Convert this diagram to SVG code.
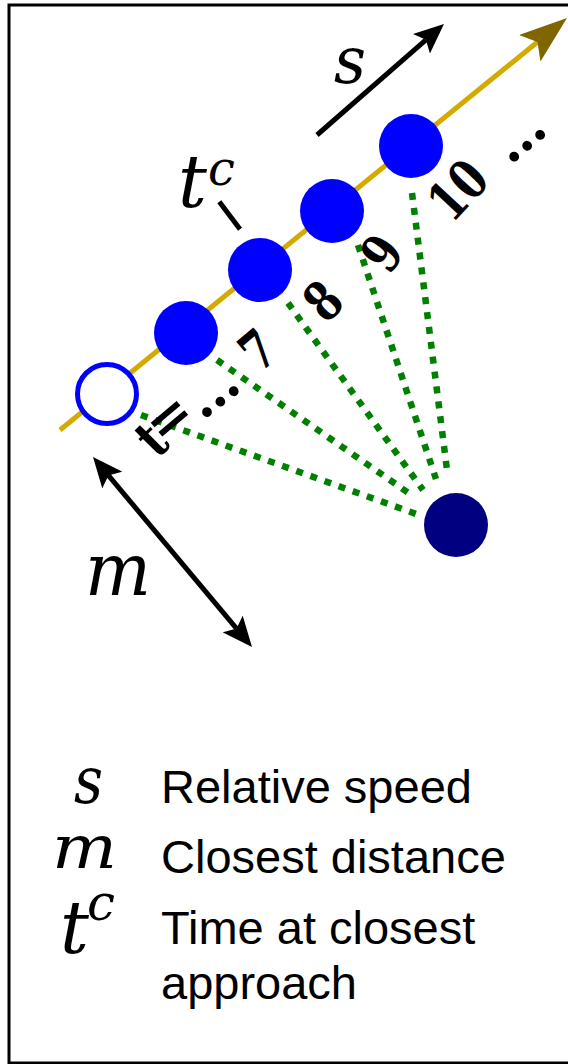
<svg xmlns="http://www.w3.org/2000/svg" width="568" height="1064" viewBox="0 0 568 1064">
<style>
.math{font-family:'DejaVu Serif',serif;font-style:italic;fill:#000}
.lbl{font-family:'DejaVu Serif',serif;font-weight:bold;font-size:54px;fill:#000}
.leg{font-family:'Liberation Sans',Arial,sans-serif;font-size:47px;fill:#000}
.dot{stroke:#008000;stroke-width:6.5;stroke-dasharray:7 8;fill:none}
.blk{stroke:#000;stroke-width:5;fill:none}
.sat{fill:#0000FF}
</style>
<defs>
<marker id="ah" viewBox="0 0 30 26" refX="6" refY="13" markerWidth="30" markerHeight="26" markerUnits="userSpaceOnUse" orient="auto-start-reverse">
<path d="M0,0 L30,13 L0,26 L6,13 z" fill="#000"/>
</marker>
<marker id="yh" viewBox="0 0 48 34" refX="10" refY="17" markerWidth="48" markerHeight="34" markerUnits="userSpaceOnUse" orient="auto">
<path d="M0,0 L48,17 L0,34 L10,17 z" fill="#806600"/>
</marker>
</defs>
<rect x="9" y="5" width="572" height="1058" fill="#fff" stroke="#000" stroke-width="3"/>

<g id="connectors">
<line x1="60" y1="430" x2="537.5" y2="42" stroke="#D4AA00" stroke-width="5" marker-end="url(#yh)"/>
<line class="dot" x1="141" y1="415" x2="419" y2="515"/>
<line class="dot" x1="217" y1="360" x2="410" y2="494"/>
<line class="dot" x1="288" y1="303" x2="423" y2="490"/>
<line class="dot" x1="358" y1="245" x2="436" y2="479"/>
<line class="dot" x1="412" y1="193" x2="447" y2="470"/>
<line class="blk" x1="317" y1="135" x2="425.9" y2="39.8" marker-end="url(#ah)"/>
<line class="blk" x1="108.4" y1="475.4" x2="236.6" y2="628.6" marker-start="url(#ah)" marker-end="url(#ah)"/>
<line class="blk" x1="219.3" y1="201.7" x2="240" y2="229.3"/>
</g>

<g id="pos0"><circle cx="107" cy="394" r="29.5" fill="#fff" stroke="#0000FF" stroke-width="5"/></g>
<g id="pos1"><circle class="sat" cx="186" cy="333" r="32"/></g>
<g id="pos2"><circle class="sat" cx="260" cy="270" r="32"/></g>
<g id="pos3"><circle class="sat" cx="332" cy="211" r="32"/></g>
<g id="pos4"><circle class="sat" cx="411" cy="146" r="32"/></g>
<g id="target"><circle cx="456" cy="525" r="32" fill="#000080"/></g>

<g id="labels">
<text class="lbl" transform="translate(156,444) rotate(-45)" x="0" y="12" text-anchor="middle" textLength="20" lengthAdjust="spacingAndGlyphs" font-size="46">t</text>
<text class="lbl" transform="translate(174,424) rotate(-40)" x="0" y="10" text-anchor="middle" font-size="46">=</text>
<text class="lbl" transform="translate(223,405) rotate(-38)" x="0" y="0" text-anchor="middle" textLength="52" lengthAdjust="spacingAndGlyphs">…</text>
<text class="lbl" transform="translate(258,350) rotate(-40)" x="0" y="19" text-anchor="middle" textLength="29" lengthAdjust="spacingAndGlyphs">7</text>
<text class="lbl" transform="translate(323,301) rotate(-45)" x="0" y="19" text-anchor="middle" textLength="29" lengthAdjust="spacingAndGlyphs">8</text>
<text class="lbl" transform="translate(382,253) rotate(-55)" x="0" y="19" text-anchor="middle" textLength="29" lengthAdjust="spacingAndGlyphs">9</text>
<text class="lbl" transform="translate(458,190) rotate(-47)" x="0" y="19" text-anchor="middle" textLength="58" lengthAdjust="spacingAndGlyphs">10</text>
<text class="lbl" transform="translate(530,149) rotate(-40)" x="0" y="0" text-anchor="middle" textLength="52" lengthAdjust="spacingAndGlyphs">…</text>
<text class="math" x="334" y="83" font-size="66" textLength="32" lengthAdjust="spacingAndGlyphs">s</text>
<text class="math" x="178" y="207" font-size="72">t</text>
<text class="math" x="208" y="185" font-size="48">c</text>
<text class="math" x="85" y="595" font-size="72" textLength="66" lengthAdjust="spacingAndGlyphs">m</text>
</g>

<g id="legend">
<text class="math" x="74" y="803" font-size="66" textLength="29" lengthAdjust="spacingAndGlyphs">s</text>
<text class="math" x="52" y="868" font-size="60" textLength="65" lengthAdjust="spacingAndGlyphs">m</text>
<text class="math" x="60" y="953" font-size="72">t</text>
<text class="math" x="87" y="920" font-size="50">c</text>
<text class="leg" x="161" y="803">Relative speed</text>
<text class="leg" x="161" y="873">Closest distance</text>
<text class="leg" x="161" y="944">Time at closest</text>
<text class="leg" x="161" y="999">approach</text>
</g>
</svg>
